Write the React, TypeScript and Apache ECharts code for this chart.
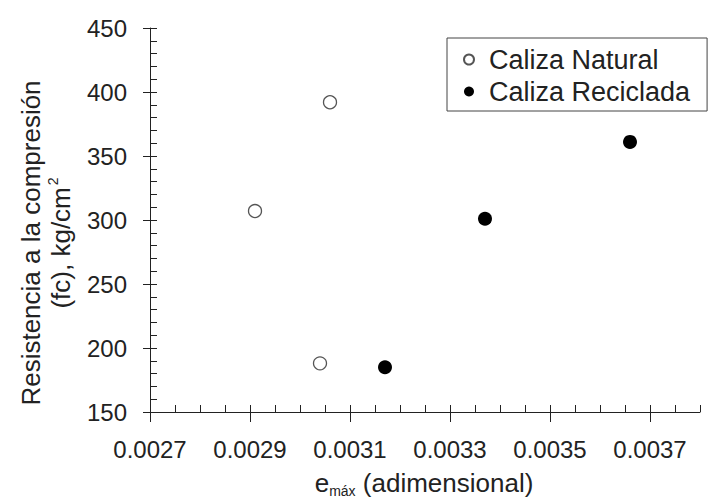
import React, { useEffect, useRef } from "react";
import * as echarts from "echarts";

const naturalX = [0.00306, 0.00291, 0.00304];
const naturalY = [392, 307, 188];
const recicladaX = [0.00317, 0.00337, 0.00366];
const recicladaY = [185, 301, 361];

const xMin = 0.0027;
const xMax = 0.0038;
const xLabelMax = 0.0037;
const xMajor = 0.0002;
const xMinor = 0.00005;
const yMin = 150;
const yMax = 450;
const yMajor = 50;
const yMinor = 10;

const seriesNames = ["Caliza Natural", "Caliza Reciclada"];
const yTitle1 = "Resistencia a la compresión";
const yTitle2 = "(fc), kg/cm";
const xTitleMain = "e";
const xTitleSub = "máx";
const xTitleRest = " (adimensional)";

const FONT = "'Liberation Sans', Arial, sans-serif";
const INK = "#222";

export default function App() {
  const ref = useRef<HTMLDivElement>(null);
  useEffect(() => {
    if (!ref.current) return;
    const chart = echarts.init(ref.current, undefined, { renderer: "svg" });
    const zip = (xs: number[], ys: number[]) => xs.map((x, i) => [x, ys[i]]);
    const gridMain = { left: 150, right: 26, top: 28, bottom: 88 };
    const gridLab = { left: 150, right: 76, top: 28, bottom: 88 };
    chart.setOption({
      animation: false,
      backgroundColor: "#fff",
      textStyle: { fontFamily: FONT },
      grid: [gridMain, gridLab],
      xAxis: [
        {
          type: "value",
          gridIndex: 0,
          min: xMin,
          max: xMax,
          interval: xMinor,
          axisLine: { show: true, onZero: false, lineStyle: { color: INK, width: 1 } },
          axisTick: { show: true, inside: true, length: 7, lineStyle: { color: INK, width: 1 } },
          axisLabel: { show: false },
          splitLine: { show: false },
        },
        {
          type: "value",
          gridIndex: 1,
          min: xMin,
          max: xLabelMax,
          interval: xMajor,
          axisLine: { show: false, onZero: false },
          axisTick: { show: true, inside: false, length: 10, lineStyle: { color: INK, width: 1 } },
          axisLabel: {
            show: true,
            fontSize: 24,
            color: INK,
            fontFamily: FONT,
            margin: 25,
            formatter: (v: number) => v.toFixed(4),
          },
          splitLine: { show: false },
        },
      ],
      yAxis: [
        {
          type: "value",
          gridIndex: 0,
          min: yMin,
          max: yMax,
          interval: yMinor,
          axisLine: { show: true, onZero: false, lineStyle: { color: INK, width: 1 } },
          axisTick: { show: true, inside: true, length: 7, lineStyle: { color: INK, width: 1 } },
          axisLabel: { show: false },
          splitLine: { show: false },
        },
        {
          type: "value",
          gridIndex: 1,
          min: yMin,
          max: yMax,
          interval: yMajor,
          axisLine: { show: false, onZero: false },
          axisTick: { show: true, inside: false, length: 7, lineStyle: { color: INK, width: 1 } },
          axisLabel: { show: true, fontSize: 24, color: INK, fontFamily: FONT, margin: 23 },
          splitLine: { show: false },
        },
      ],
      legend: {
        orient: "vertical",
        left: 447,
        top: 38,
        padding: [8, 17, 6, 16],
        itemWidth: 30,
        itemHeight: 10,
        itemGap: 5,
        borderColor: "#444",
        borderWidth: 1,
        icon: "circle",
        textStyle: { fontSize: 27, color: INK, fontFamily: FONT },
        data: seriesNames,
      },
      series: [
        {
          name: seriesNames[0],
          type: "scatter",
          xAxisIndex: 0,
          yAxisIndex: 0,
          symbol: "circle",
          symbolSize: 13,
          itemStyle: { color: "#fff", borderColor: "#555", borderWidth: 1.3, opacity: 1 },
          data: zip(naturalX, naturalY),
        },
        {
          name: seriesNames[1],
          type: "scatter",
          xAxisIndex: 0,
          yAxisIndex: 0,
          symbol: "circle",
          symbolSize: 14,
          itemStyle: { color: "#000", opacity: 1 },
          data: zip(recicladaX, recicladaY),
        },
      ],
      graphic: [
        {
          type: "text",
          x: 46,
          y: 243,
          rotation: Math.PI / 2,
          style: {
            text: `{a|${yTitle1}}\n{a|${yTitle2}}{sup|2}`,
            align: "center",
            verticalAlign: "middle",
            rich: {
              a: { fontSize: 26, fontFamily: FONT, fill: INK, lineHeight: 30 },
              sup: { fontSize: 14, fontFamily: FONT, fill: INK, lineHeight: 30, verticalAlign: "top", padding: [0, 0, 0, 2] },
            },
          },
        },
        {
          type: "text",
          x: 424,
          y: 483,
          style: {
            text: `{a|${xTitleMain}}{sub|${xTitleSub}}{a|${xTitleRest}}`,
            align: "center",
            verticalAlign: "middle",
            rich: {
              a: { fontSize: 26, fontFamily: FONT, fill: INK, lineHeight: 30 },
              sub: { fontSize: 14, fontFamily: FONT, fill: INK, lineHeight: 30, verticalAlign: "bottom" },
            },
          },
        },
      ],
    });
    return () => chart.dispose();
  }, []);
  return (
    <div
      ref={ref}
      style={{ position: "fixed", left: 0, top: 0, width: 726, height: 500, background: "#fff" }}
    />
  );
}
